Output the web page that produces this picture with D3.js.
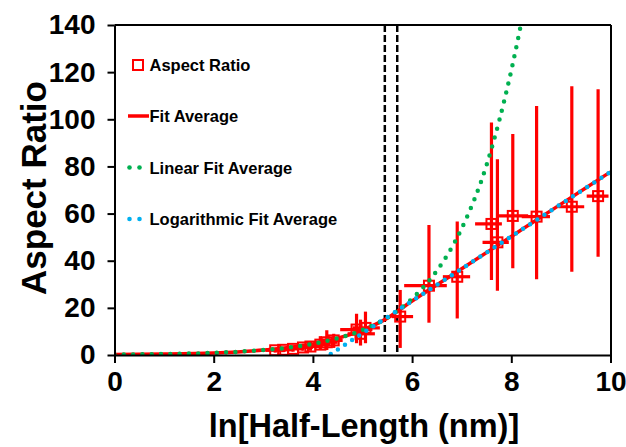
<!DOCTYPE html>
<html>
<head>
<meta charset="utf-8">
<script src="https://cdn.jsdelivr.net/npm/d3@7"></script>
<style>
  body { margin: 0; background: #fff; }
  text { font-family: 'Liberation Sans', Arial, sans-serif; font-weight: bold; }
</style>
</head>
<body>
<div id="chart"></div>
<script>
// measured points: ln(half-length), aspect ratio and error bar extents
const lnLength = [3.24, 3.40, 3.60, 3.80, 3.95, 4.15, 4.28, 4.42, 4.88, 4.96, 5.06, 5.76, 6.34, 6.91, 7.60, 7.72, 8.03, 8.51, 9.22, 9.75]
const aspectRatio = [2.0, 2.2, 2.6, 3.2, 3.6, 4.4, 5.4, 6.2, 10.8, 9.0, 11.5, 16.3, 29.4, 33.2, 55.6, 47.8, 59.0, 58.7, 62.9, 67.4]
const xLow = [3.05, 3.20, 3.40, 3.60, 3.75, 3.95, 4.05, 4.20, 4.55, 4.70, 4.80, 5.59, 5.84, 6.62, 7.27, 7.42, 7.73, 8.21, 8.95, 9.52]
const xHigh = [3.45, 3.60, 3.80, 4.00, 4.15, 4.35, 4.50, 4.60, 5.20, 5.25, 5.35, 6.02, 6.70, 7.17, 7.81, 7.95, 8.34, 8.78, 9.47, 9.96]
const yLow = [1.0, 1.2, 1.4, 1.8, 1.8, 2.5, 2.1, 3.0, 5.0, 4.0, 5.0, 3.0, 13.7, 15.5, 31.8, 27.3, 36.8, 32.1, 35.3, 41.7]
const yHigh = [3.0, 3.4, 4.0, 4.8, 5.6, 8.0, 10.5, 9.0, 17.5, 15.0, 18.4, 27.6, 55.2, 56.6, 98.6, 83.0, 93.8, 105.6, 114.0, 112.7]

// fit curves
const fitX = [0, 1, 2, 3, 4, 4.5, 5, 5.45, 6, 7, 8, 9, 10]
const fitY = [0.2, 0.4, 0.9, 2.1, 4.7, 7.1, 10.6, 15.0, 22.9, 36.6, 50.3, 64.0, 77.7]
const linX = [0, 1, 2, 3, 3.5, 4, 4.5, 5, 5.5, 6, 6.5, 7, 7.5, 8, 8.25]
const linY = [0.2, 0.4, 0.9, 2.1, 3.1, 4.7, 7.1, 10.6, 15.9, 23.9, 35.8, 53.7, 80.5, 120.7, 146]
const logX = [4.36, 5, 6, 7, 8, 9, 10]
const logY = [0.4, 9.2, 22.9, 36.6, 50.3, 64.0, 77.7]

// transition window
const cutoffs = [5.45, 5.70]

const xTicks = [0, 2, 4, 6, 8, 10]
const yTicks = [0, 20, 40, 60, 80, 100, 120, 140]

const legendItems = ['Aspect Ratio', 'Fit Average', 'Linear Fit Average', 'Logarithmic Fit Average']

const red = '#ff0000'
const green = '#00b050'
const blue = '#00b0f0'

const svg = d3
  .select('#chart')
  .append('svg')
  .attr('width', 626)
  .attr('height', 447)

const xPositionScale = d3.scaleLinear().domain([0, 10]).range([114.5, 610.5])
const yPositionScale = d3.scaleLinear().domain([0, 140]).range([355, 25])

svg.append('defs')
  .append('clipPath')
  .attr('id', 'plot-clip')
  .append('rect')
  .attr('x', 114.5)
  .attr('y', 25)
  .attr('width', 496)
  .attr('height', 330)

const plot = svg.append('g').attr('clip-path', 'url(#plot-clip)')

// dashed window lines
plot.selectAll('.cutoff')
  .data(cutoffs)
  .enter()
  .append('line')
  .attr('class', 'cutoff')
  .attr('x1', d => xPositionScale(d))
  .attr('x2', d => xPositionScale(d))
  .attr('y1', yPositionScale(140))
  .attr('y2', yPositionScale(0))
  .attr('stroke', '#000')
  .attr('stroke-width', 2.5)
  .attr('stroke-dasharray', '7,3')

const points = lnLength.map((x, i) => ({
  x: x,
  y: aspectRatio[i],
  x0: xLow[i],
  x1: xHigh[i],
  y0: yLow[i],
  y1: yHigh[i]
}))

// error bars
plot.selectAll('.vbar')
  .data(points)
  .enter()
  .append('line')
  .attr('x1', d => xPositionScale(d.x))
  .attr('x2', d => xPositionScale(d.x))
  .attr('y1', d => yPositionScale(d.y0))
  .attr('y2', d => yPositionScale(d.y1))
  .attr('stroke', red)
  .attr('stroke-width', 3.2)

plot.selectAll('.hbar')
  .data(points)
  .enter()
  .append('line')
  .attr('x1', d => xPositionScale(d.x0))
  .attr('x2', d => xPositionScale(d.x1))
  .attr('y1', d => yPositionScale(d.y))
  .attr('y2', d => yPositionScale(d.y))
  .attr('stroke', red)
  .attr('stroke-width', 3.2)

const line = d3.line()
  .x(d => xPositionScale(d[0]))
  .y(d => yPositionScale(d[1]))
  .curve(d3.curveMonotoneX)

plot.append('path')
  .datum(fitX.map((x, i) => [x, fitY[i]]))
  .attr('d', line)
  .attr('fill', 'none')
  .attr('stroke', red)
  .attr('stroke-width', 3.5)

plot.selectAll('.square')
  .data(points)
  .enter()
  .append('rect')
  .attr('x', d => xPositionScale(d.x) - 5)
  .attr('y', d => yPositionScale(d.y) - 5)
  .attr('width', 10)
  .attr('height', 10)
  .attr('fill', 'none')
  .attr('stroke', red)
  .attr('stroke-width', 2)

plot.append('path')
  .datum(linX.map((x, i) => [x, linY[i]]))
  .attr('d', line)
  .attr('fill', 'none')
  .attr('stroke', green)
  .attr('stroke-width', 4.5)
  .attr('stroke-linecap', 'round')
  .attr('stroke-dasharray', '0,9.3')

plot.append('path')
  .datum(logX.map((x, i) => [x, logY[i]]))
  .attr('d', line)
  .attr('fill', 'none')
  .attr('stroke', blue)
  .attr('stroke-width', 4.5)
  .attr('stroke-linecap', 'round')
  .attr('stroke-dasharray', '0,8.5')

// axes
const xAxis = d3.axisBottom(xPositionScale)
  .tickValues(xTicks)
  .tickSize(8)
  .tickPadding(8)
  .tickSizeOuter(0)

svg.append('g')
  .attr('class', 'axis x-axis')
  .attr('transform', 'translate(0,355)')
  .call(xAxis)

const yAxis = d3.axisLeft(yPositionScale)
  .tickValues(yTicks)
  .tickSize(7)
  .tickPadding(12)
  .tickSizeOuter(0)

svg.append('g')
  .attr('class', 'axis y-axis')
  .attr('transform', 'translate(114.5,0)')
  .call(yAxis)

svg.selectAll('.axis path, .axis line')
  .attr('stroke', '#000')
  .attr('stroke-width', 2)

svg.selectAll('.axis text')
  .attr('font-size', '28px')
  .attr('fill', '#000')

// frame top and right
svg.append('line')
  .attr('x1', 114.5).attr('x2', 611)
  .attr('y1', 25).attr('y2', 25)
  .attr('stroke', '#000').attr('stroke-width', 2)
svg.append('line')
  .attr('x1', 611).attr('x2', 611)
  .attr('y1', 25).attr('y2', 355)
  .attr('stroke', '#000').attr('stroke-width', 2)

svg.append('text')
  .text('ln[Half-Length (nm)]')
  .attr('x', 364)
  .attr('y', 437)
  .attr('text-anchor', 'middle')
  .attr('font-size', '32.5px')

svg.append('text')
  .text('Aspect Ratio')
  .attr('transform', 'translate(46,188) rotate(-90)')
  .attr('text-anchor', 'middle')
  .attr('font-size', '35px')

// legend
const legend = svg.append('g')
const rowY = [65, 116, 167.5, 219]

legend.selectAll('text')
  .data(legendItems)
  .enter()
  .append('text')
  .text(d => d)
  .attr('x', 149.5)
  .attr('y', (d, i) => rowY[i] + 6)
  .attr('font-size', '16.5px')

legend.append('rect')
  .attr('x', 133).attr('y', rowY[0] - 5)
  .attr('width', 10).attr('height', 10)
  .attr('fill', 'none').attr('stroke', red).attr('stroke-width', 2)

legend.append('line')
  .attr('x1', 128).attr('x2', 149)
  .attr('y1', rowY[1]).attr('y2', rowY[1])
  .attr('stroke', red).attr('stroke-width', 3.5)

legend.selectAll('.gdot')
  .data([129.5, 139.5])
  .enter()
  .append('circle')
  .attr('cx', d => d).attr('cy', rowY[2]).attr('r', 2.3)
  .attr('fill', green)

legend.selectAll('.bdot')
  .data([129.5, 139.5])
  .enter()
  .append('circle')
  .attr('cx', d => d).attr('cy', rowY[3]).attr('r', 2.3)
  .attr('fill', blue)
</script>
</body>
</html>
